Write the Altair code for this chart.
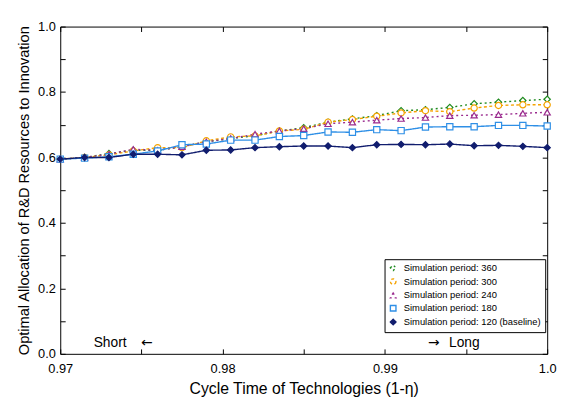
import altair as alt
import pandas as pd

# ---- data ----
x_vals = [0.9700, 0.9715, 0.9730, 0.9745, 0.9760, 0.9775, 0.9790, 0.9805, 0.9820,
          0.9835, 0.9850, 0.9865, 0.9880, 0.9895, 0.9910, 0.9925, 0.9940, 0.9955,
          0.9970, 0.9985, 1.0000]
s360 = [0.595, 0.600, 0.612, 0.622, 0.622, 0.633, 0.648, 0.658, 0.666, 0.681, 0.691,
        0.708, 0.718, 0.728, 0.743, 0.746, 0.753, 0.764, 0.769, 0.774, 0.778]
s300 = [0.595, 0.600, 0.608, 0.620, 0.630, 0.630, 0.651, 0.663, 0.666, 0.681, 0.686,
        0.708, 0.716, 0.726, 0.736, 0.743, 0.740, 0.751, 0.759, 0.761, 0.761]
s240 = [0.595, 0.600, 0.610, 0.625, 0.622, 0.633, 0.648, 0.658, 0.671, 0.681, 0.688,
        0.703, 0.708, 0.714, 0.719, 0.722, 0.728, 0.729, 0.731, 0.735, 0.738]
s180 = [0.595, 0.598, 0.602, 0.610, 0.620, 0.639, 0.641, 0.653, 0.653, 0.664, 0.667,
        0.678, 0.677, 0.685, 0.682, 0.693, 0.694, 0.694, 0.698, 0.698, 0.696]
s120 = [0.595, 0.600, 0.600, 0.610, 0.610, 0.608, 0.622, 0.623, 0.630, 0.633, 0.635,
        0.635, 0.630, 0.639, 0.640, 0.639, 0.641, 0.636, 0.637, 0.634, 0.630]

series_names = ["Simulation period: 360", "Simulation period: 300",
                "Simulation period: 240", "Simulation period: 180",
                "Simulation period: 120 (baseline)"]
series_values = [s360, s300, s240, s180, s120]

x_ticks = [0.97, 0.975, 0.98, 0.985, 0.99, 0.995, 1.0]
y_ticks = [0.0, 0.1, 0.2, 0.3, 0.4, 0.5, 0.6, 0.7, 0.8, 0.9, 1.0]

word_x = [0.97206, 0.99395]
word_y = [0.034, 0.034]
word_text = ["Short", "Long"]
arrow_x = [0.97498, 0.99265]
arrow_y = [0.034, 0.034]
arrow_text = ["\u2190", "\u2192"]

# ---- styles ----
colors = ["#1e8a1e", "#f5a300", "#9a2a8e", "#2e8fe6", "#111d6e"]
fills = ["white", "white", "white", "white", "#111d6e"]
shapes = ["diamond", "circle", "triangle-up", "square", "diamond"]
dashes = [[2, 3], [3, 2.5], [2, 3], [1, 0], [1, 0]]
widths = [1.4, 1.4, 1.4, 1.4, 3.0]

rows = []
for name, vals in zip(series_names, series_values):
    for xv, yv in zip(x_vals, vals):
        rows.append({"x": xv, "y": yv, "series": name})
df = pd.DataFrame(rows)
words = pd.DataFrame({"x": word_x, "y": word_y, "t": word_text})
arrows = pd.DataFrame({"x": arrow_x, "y": arrow_y, "t": arrow_text})

xs = alt.Scale(domain=[0.97, 1.0], nice=False, zero=False)
ys = alt.Scale(domain=[0.0, 1.0], nice=False, zero=False)

FONT = "Liberation Sans"

x_bottom = alt.Axis(values=x_ticks, offset=-5, tickSize=5, domain=False, grid=False,
                    labelExpr="datum.value == 1 ? '1.0' : (round(datum.value*1000) % 10 == 0 ? format(datum.value, '.2f') : '')",
                    labelFontSize=13, labelPadding=9, labelColor="black", tickColor="black",
                    title="Cycle Time of Technologies (1-\u03b7)", titleFontSize=16,
                    titleFontWeight="normal", titleColor="black", titlePadding=5,
                    labelFont=FONT, titleFont=FONT, labelFlush=False)
y_left = alt.Axis(values=y_ticks, offset=-5, tickSize=5, domain=False, grid=False,
                  labelExpr="round(datum.value*10) % 2 == 0 ? format(datum.value, '.1f') : ''",
                  labelFontSize=13, labelPadding=5, labelColor="black", tickColor="black",
                  title="Optimal Allocation of R&D Resources to Innovation", titleFontSize=14.8,
                  titleFontWeight="normal", titleColor="black", titlePadding=6,
                  labelFont=FONT, titleFont=FONT, labelFlush=False)
x_top = alt.Axis(orient="top", values=x_ticks, offset=-5, tickSize=5, domain=False,
                 grid=False, labels=False, tickColor="black", title=None)
y_right = alt.Axis(orient="right", values=y_ticks, offset=-5, tickSize=5, domain=False,
                   grid=False, labels=False, tickColor="black", title=None)

leg = alt.Legend(title=None, orient="none", legendX=329, legendY=236,
                 strokeColor="black", fillColor="white", padding=4,
                 labelFontSize=9.5, labelFont=FONT, labelColor="black",
                 rowPadding=2, symbolStrokeWidth=1.2, symbolSize=32,
                 labelLimit=300, labelOffset=6)

lines = alt.Chart(df).mark_line().encode(
    x=alt.X("x:Q", scale=xs, axis=x_bottom),
    y=alt.Y("y:Q", scale=ys, axis=y_left),
    color=alt.Color("series:N", scale=alt.Scale(domain=series_names, range=colors), legend=leg),
    strokeDash=alt.StrokeDash("series:N", scale=alt.Scale(domain=series_names, range=dashes), legend=None),
    strokeWidth=alt.StrokeWidth("series:N", scale=alt.Scale(domain=series_names, range=widths), legend=None),
)

points = alt.Chart(df).mark_point(filled=True, size=40, strokeWidth=1.2, opacity=1).encode(
    x=alt.X("x:Q", scale=xs, axis=x_top),
    y=alt.Y("y:Q", scale=ys, axis=y_right),
    shape=alt.Shape("series:N", scale=alt.Scale(domain=series_names, range=shapes), legend=None),
    stroke=alt.Stroke("series:N", scale=alt.Scale(domain=series_names, range=colors), legend=None),
    fill=alt.Fill("series:N", scale=alt.Scale(domain=series_names, range=fills), legend=None),
)

word_layer = alt.Chart(words).mark_text(align="left", baseline="middle", fontSize=14,
                                        font=FONT, color="black").encode(
    x=alt.X("x:Q", scale=xs, axis=None),
    y=alt.Y("y:Q", scale=ys, axis=None),
    text="t:N",
)
arrow_layer = alt.Chart(arrows).mark_text(align="left", baseline="middle", fontSize=14,
                                          font="DejaVu Sans", color="black").encode(
    x=alt.X("x:Q", scale=xs, axis=None),
    y=alt.Y("y:Q", scale=ys, axis=None),
    text="t:N",
)

chart = alt.layer(lines, points, word_layer, arrow_layer).resolve_axis(
    x="independent", y="independent"
).properties(
    width=494, height=332,
    autosize=alt.AutoSizeParams(type="none"),
    padding={"left": 53, "top": 16, "right": 13, "bottom": 44},
    background="white",
).configure_view(
    stroke="black", strokeWidth=1
)

chart.save("out.html", embed_options={"renderer": "svg", "actions": False})
